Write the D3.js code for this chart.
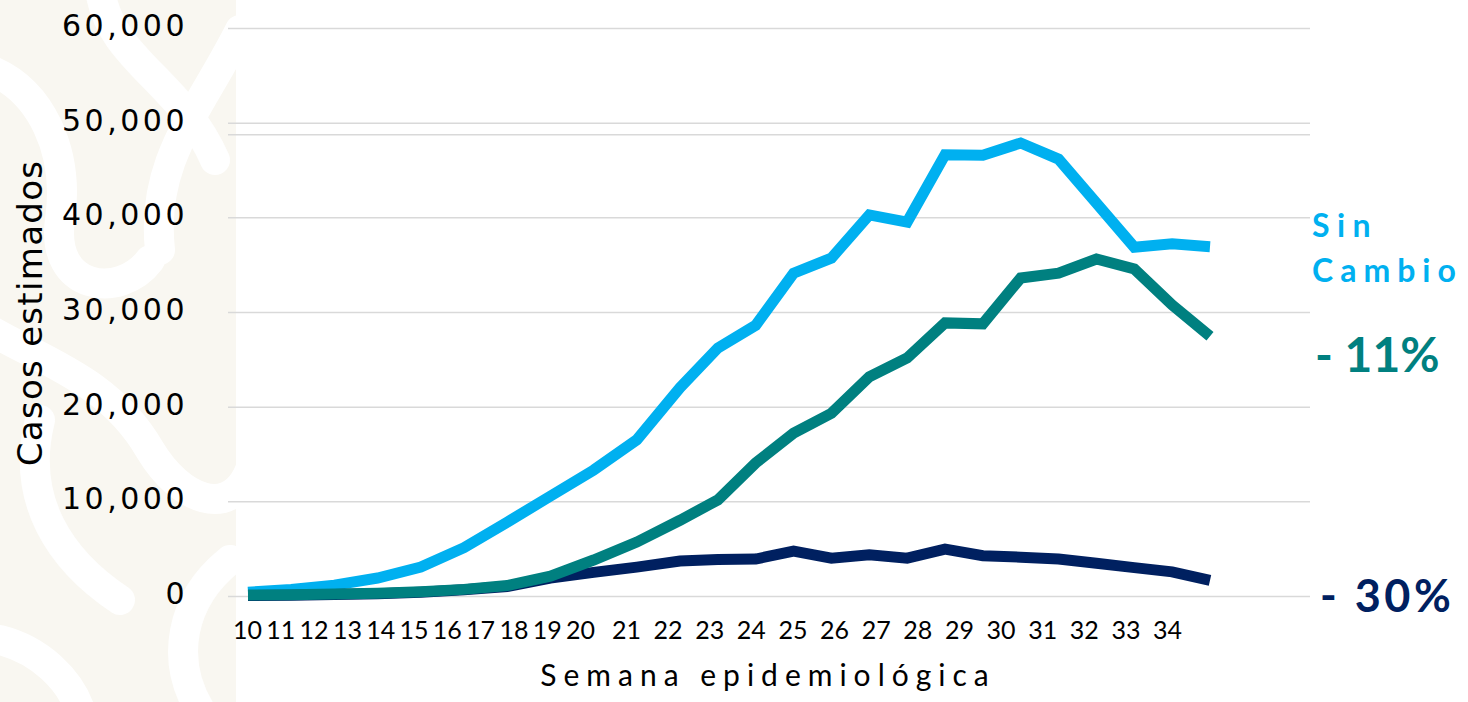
<!DOCTYPE html>
<html>
<head>
<meta charset="utf-8">
<script src="https://cdn.jsdelivr.net/npm/d3@7"></script>
<style>
  body { margin: 0; background: #ffffff; }
  svg { display: block; }
</style>
</head>
<body>
<div id="chart"></div>
<script>
// weekly estimated cases, three scenarios
const weeks = [10, 11, 12, 13, 14, 15, 16, 17, 18, 19, 20, 21, 22, 23, 24, 25, 26, 27, 28, 29, 30, 31, 32, 33, 34];
const sinCambio = [400, 700, 1150, 1900, 3050, 5100, 7800, 10550, 13300, 16500, 22000, 26200, 28600, 34100, 35700, 40250, 39500, 46600, 46550, 47850, 46150, 41500, 36850, 37200, 36900];
const menos11   = [100, 120, 200, 300, 450, 700, 1100, 2100, 3800, 5700, 8000, 10150, 14050, 17200, 19300, 23150, 25150, 28850, 28750, 33600, 34100, 35600, 34550, 30750, 27450];
const menos30   = [50, 80, 150, 250, 400, 650, 1000, 1900, 2500, 3050, 3700, 3850, 3900, 4750, 4000, 4350, 4000, 4950, 4250, 4100, 3900, 3450, 3000, 2550, 1650];
const yTicks = [0, 10000, 20000, 30000, 40000, 50000, 60000];
const weekLabels = weeks;

const W = 1468, H = 702;
const plotLeft = 228, plotRight = 1310;

const svg = d3.select("#chart")
    .append("svg")
    .attr("width", W)
    .attr("height", H);

    // faint watermark on the left
const wm = svg.append("g");
wm.append("rect").attr("x", 0).attr("y", 0).attr("width", 236).attr("height", H).attr("fill", "#f9f7f1");
const swirls = [
    "M 100 -10 C 110 60, 180 80, 215 160",
    "M -10 70 C 40 90, 70 150, 60 220 C 50 290, 120 300, 150 260",
    "M 240 30 C 200 110, 150 160, 160 250",
    "M -10 330 C 40 360, 110 380, 150 450 C 180 500, 230 520, 250 470",
    "M 40 420 C 20 500, 60 560, 120 600",
    "M 230 560 C 180 600, 170 660, 200 710",
    "M 0 640 C 40 650, 70 680, 80 710"
];
wm.selectAll("path")
    .data(swirls)
    .enter()
    .append("path")
    .attr("d", d => d)
    .attr("fill", "none")
    .attr("stroke", "#ffffff")
    .attr("stroke-width", 30)
    .attr("stroke-linecap", "round");

    // scales
const x = d3.scaleLinear().domain([10, 20, 34]).range([248, 680, 1210]);
const xLab = d3.scaleLinear().domain([10, 20, 21, 34]).range([247, 580, 626, 1167]);
const y = d3.scaleLinear().domain([0, 60000]).range([596, 28]);

    // y axis + gridlines
const yAxis = svg.append("g")
    .attr("transform", `translate(${plotLeft},0)`)
    .call(d3.axisLeft(y)
        .tickValues(yTicks)
        .tickFormat(d3.format(","))
        .tickSize(-(plotRight - plotLeft))
        .tickPadding(40));
yAxis.select(".domain").remove();
yAxis.selectAll(".tick line").attr("stroke", "#d9d9d9").attr("stroke-width", 1.5);
yAxis.selectAll(".tick text")
    .attr("fill", "#000")
    .attr("dy", "0.25em")
    .style("font-family", "DejaVu Sans")
    .style("font-size", "30px")
    .style("letter-spacing", "3.5px");

    // second rule just under the 50,000 line
svg.append("line")
    .attr("x1", plotLeft).attr("x2", plotRight)
    .attr("y1", y(50000) + 12).attr("y2", y(50000) + 12)
    .attr("stroke", "#d9d9d9").attr("stroke-width", 1.5);

    // x labels
const xAxis = svg.append("g")
    .attr("transform", "translate(0,620)")
    .call(d3.axisBottom(xLab).tickValues(weekLabels).tickFormat(d => d).tickSize(0).tickPadding(0));
xAxis.select(".domain").remove();
xAxis.selectAll(".tick text")
    .attr("fill", "#000")
    .attr("dy", "0.75em")
    .style("font-family", "Lato")
    .style("font-size", "25px");

    // axis titles
svg.append("text")
    .attr("text-anchor", "middle")
    .attr("x", 768)
    .attr("y", 686)
    .style("font-family", "Lato")
    .style("font-size", "30px")
    .style("letter-spacing", "7px")
    .text("Semana epidemiológica");

svg.append("text")
    .attr("text-anchor", "middle")
    .attr("transform", "translate(42,313) rotate(-90)")
    .style("font-family", "DejaVu Sans")
    .style("font-size", "34px")
    .style("letter-spacing", "1.3px")
    .text("Casos estimados");

    // lines
const series = [
    { values: sinCambio, color: "#00b0f0" },
    { values: menos30,   color: "#002060" },
    { values: menos11,   color: "#008080" }
];

const line = d3.line()
    .x((d, i) => x(weeks[i]))
    .y(d => y(d));

series.forEach(s => {
    svg.append("path")
        .datum(s.values)
        .attr("fill", "none")
        .attr("stroke", s.color)
        .attr("stroke-width", 11)
        .attr("stroke-linejoin", "miter")
        .attr("stroke-linecap", "butt")
        .attr("d", line);
});

    // end labels
svg.append("text")
    .attr("x", 1312).attr("y", 237)
    .attr("fill", "#00b0f0")
    .style("font-family", "Lato").style("font-weight", "bold")
    .style("font-size", "32px").style("letter-spacing", "7.5px")
    .text("Sin");
svg.append("text")
    .attr("x", 1312).attr("y", 282)
    .attr("fill", "#00b0f0")
    .style("font-family", "Lato").style("font-weight", "bold")
    .style("font-size", "32px").style("letter-spacing", "7px")
    .text("Cambio");
svg.append("text")
    .attr("x", 1315).attr("y", 372)
    .attr("fill", "#008080")
    .style("font-family", "Lato").style("font-weight", "bold")
    .style("font-size", "48px")
    .text("- 11%");
svg.append("text")
    .attr("x", 1320).attr("y", 612)
    .attr("fill", "#002060")
    .style("font-family", "Lato").style("font-weight", "bold")
    .style("font-size", "45px").style("letter-spacing", "3.5px")
    .text("- 30%");
</script>
</body>
</html>
